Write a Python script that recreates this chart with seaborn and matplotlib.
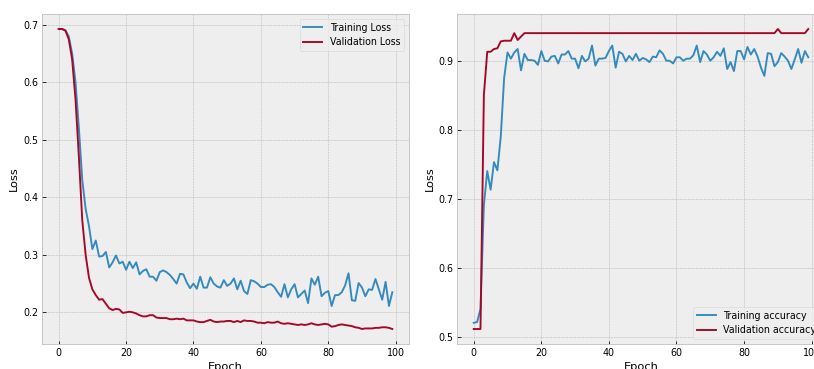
import numpy as np
import pandas as pd
import matplotlib
matplotlib.use("Agg")
import matplotlib.pyplot as plt
import seaborn as sns

# ── Data ──────────────────────────────────────────────
epochs = list(range(100))

train_loss = [
    0.693, 0.693, 0.691, 0.680, 0.650, 0.600, 0.520, 0.430, 0.380, 0.350,
    0.310, 0.325, 0.297, 0.298, 0.305, 0.278, 0.287, 0.299, 0.285, 0.288,
    0.274, 0.288, 0.277, 0.287, 0.266, 0.272, 0.275, 0.262, 0.262, 0.255,
    0.270, 0.273, 0.270, 0.265, 0.258, 0.250, 0.267, 0.266, 0.252, 0.242,
    0.250, 0.241, 0.262, 0.243, 0.243, 0.261, 0.250, 0.245, 0.243, 0.256,
    0.246, 0.250, 0.259, 0.240, 0.255, 0.237, 0.232, 0.256, 0.254, 0.250,
    0.244, 0.244, 0.248, 0.249, 0.244, 0.235, 0.227, 0.249, 0.226, 0.240,
    0.249, 0.226, 0.232, 0.238, 0.216, 0.259, 0.248, 0.262, 0.228, 0.234,
    0.237, 0.211, 0.230, 0.230, 0.235, 0.247, 0.268, 0.221, 0.220, 0.251,
    0.243, 0.228, 0.240, 0.239, 0.258, 0.240, 0.222, 0.253, 0.211, 0.235,
]

val_loss = [
    0.693, 0.693, 0.690, 0.675, 0.640, 0.570, 0.470, 0.360, 0.300, 0.260,
    0.240, 0.230, 0.222, 0.223, 0.215, 0.207, 0.204, 0.206, 0.205, 0.199,
    0.200, 0.201, 0.200, 0.198, 0.195, 0.193, 0.193, 0.195, 0.195, 0.191,
    0.190, 0.190, 0.190, 0.188, 0.188, 0.189, 0.188, 0.189, 0.186, 0.186,
    0.186, 0.184, 0.183, 0.183, 0.185, 0.187, 0.184, 0.183, 0.184, 0.184,
    0.185, 0.185, 0.183, 0.185, 0.183, 0.186, 0.185, 0.185, 0.184, 0.182,
    0.182, 0.181, 0.183, 0.182, 0.182, 0.184, 0.181, 0.180, 0.181, 0.180,
    0.179, 0.178, 0.179, 0.178, 0.179, 0.181, 0.179, 0.178, 0.179, 0.180,
    0.179, 0.175, 0.176, 0.178, 0.179, 0.178, 0.177, 0.176, 0.174, 0.173,
    0.171, 0.172, 0.172, 0.172, 0.173, 0.173, 0.174, 0.174, 0.173, 0.171,
]

train_acc = [
    0.520, 0.521, 0.540, 0.690, 0.740, 0.713, 0.753, 0.741, 0.790, 0.875,
    0.912, 0.903, 0.912, 0.917, 0.886, 0.910, 0.901, 0.901, 0.900, 0.894,
    0.914, 0.900, 0.899, 0.906, 0.907, 0.896, 0.909, 0.909, 0.914, 0.903,
    0.903, 0.889, 0.907, 0.899, 0.903, 0.922, 0.893, 0.903, 0.903, 0.904,
    0.914, 0.922, 0.890, 0.913, 0.910, 0.899, 0.907, 0.901, 0.910, 0.900,
    0.904, 0.902, 0.898, 0.906, 0.905, 0.915, 0.910, 0.900, 0.900, 0.896,
    0.905, 0.905, 0.900, 0.903, 0.903, 0.908, 0.922, 0.898, 0.914, 0.909,
    0.900, 0.905, 0.913, 0.907, 0.918, 0.888, 0.898, 0.885, 0.914, 0.914,
    0.902, 0.920, 0.909, 0.917, 0.906, 0.890, 0.878, 0.911, 0.910, 0.892,
    0.898, 0.911, 0.906, 0.900, 0.888, 0.902, 0.917, 0.897, 0.914, 0.905,
]

val_acc = [
    0.511, 0.511, 0.511, 0.850, 0.913, 0.913, 0.917, 0.918, 0.928, 0.929,
    0.929, 0.929, 0.940, 0.930, 0.935, 0.940, 0.940, 0.940, 0.940, 0.940,
    0.940, 0.940, 0.940, 0.940, 0.940, 0.940, 0.940, 0.940, 0.940, 0.940,
    0.940, 0.940, 0.940, 0.940, 0.940, 0.940, 0.940, 0.940, 0.940, 0.940,
    0.940, 0.940, 0.940, 0.940, 0.940, 0.940, 0.940, 0.940, 0.940, 0.940,
    0.940, 0.940, 0.940, 0.940, 0.940, 0.940, 0.940, 0.940, 0.940, 0.940,
    0.940, 0.940, 0.940, 0.940, 0.940, 0.940, 0.940, 0.940, 0.940, 0.940,
    0.940, 0.940, 0.940, 0.940, 0.940, 0.940, 0.940, 0.940, 0.940, 0.940,
    0.940, 0.940, 0.940, 0.940, 0.940, 0.940, 0.940, 0.940, 0.940, 0.940,
    0.946, 0.940, 0.940, 0.940, 0.940, 0.940, 0.940, 0.940, 0.940, 0.946,
]

BLUE = "#348ABD"
RED = "#A60628"

# ── Setup ─────────────────────────────────────────────
plt.style.use("bmh")
plt.rcParams["font.size"] = 9.5
DPI = 72
W, H = 814, 369
fig = plt.figure(figsize=(W / DPI, H / DPI), dpi=DPI)

# axes placed in pixel terms; the right panel runs past the figure edge
ax1 = fig.add_axes([42 / W, (H - 344) / H, 367 / W, 330 / H])
ax2 = fig.add_axes([457 / W, (H - 344) / H, 368 / W, 330 / H])

# ── Loss ──────────────────────────────────────────────
sns.lineplot(x=epochs, y=train_loss, ax=ax1, color=BLUE, lw=1.9, label="Training Loss")
sns.lineplot(x=epochs, y=val_loss, ax=ax1, color=RED, lw=1.9, label="Validation Loss")
ax1.set_xlabel("Epoch")
ax1.set_ylabel("Loss")
ax1.legend(loc="upper right")

# ── Accuracy ──────────────────────────────────────────
sns.lineplot(x=epochs, y=train_acc, ax=ax2, color=BLUE, lw=1.9, label="Training accuracy")
sns.lineplot(x=epochs, y=val_acc, ax=ax2, color=RED, lw=1.9, label="Validation accuracy")
ax2.set_xlabel("Epoch")
ax2.set_ylabel("Loss")
ax2.legend(loc="lower right")

fig.savefig("out.png", dpi=DPI)
plt.close()
